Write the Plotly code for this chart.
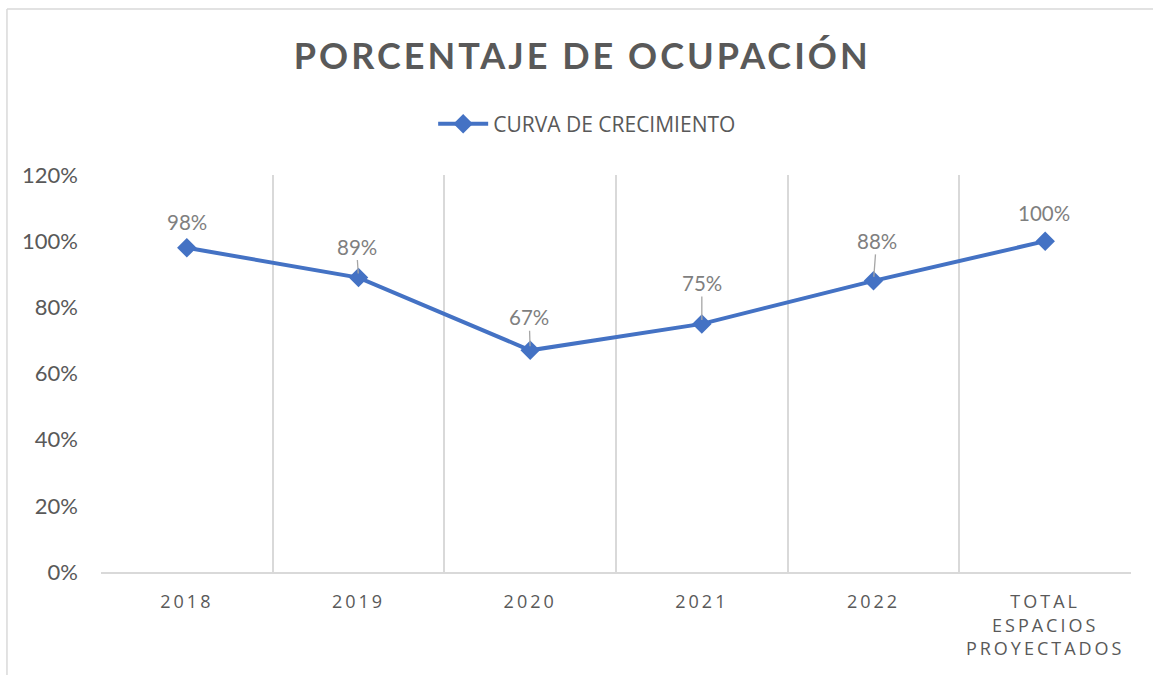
import plotly.graph_objects as go

categories = ["2018", "2019", "2020", "2021", "2022", "TOTAL<br>ESPACIOS<br>PROYECTADOS"]
values = [0.98, 0.89, 0.67, 0.75, 0.88, 1.00]
labels = ["98%", "89%", "67%", "75%", "88%", "100%"]
series_name = "CURVA DE CRECIMIENTO"
title_text = "PORCENTAJE DE OCUPACIÓN"
y_ticks = [0, 0.2, 0.4, 0.6, 0.8, 1.0, 1.2]
y_ticklabels = ["0%", "20%", "40%", "60%", "80%", "100%", "120%"]

# label styling: (x pixel offset, y pixel offset, leader line)
label_style = [(0, -26, False), (-2, -31, True), (-1, -33, True),
               (0, -41, True), (3, -40, True), (-1, -28, False)]

BLUE = "#4472C4"
GREY_TXT = "#595959"
GREY_LBL = "#7F7F7F"
GRID = "#D9D9D9"

fig = go.Figure()
fig.add_trace(go.Scatter(
    x=categories, y=values, mode="lines+markers", name=series_name,
    line=dict(color=BLUE, width=4),
    marker=dict(symbol="diamond", size=15, color=BLUE),
    hoverinfo="skip",
))

annotations = []
for i, (v, t, (dx, dy, leader)) in enumerate(zip(values, labels, label_style)):
    if leader:
        annotations.append(dict(
            x=i, y=v, xref="x", yref="y", text=t, showarrow=True,
            arrowhead=0, arrowwidth=1.3, arrowcolor="#A6A6A6",
            ax=dx, ay=dy, standoff=4, startstandoff=0,
            font=dict(family="Lato", size=20.5, color=GREY_LBL),
        ))
    else:
        annotations.append(dict(
            x=i, y=v, xref="x", yref="y", text=t, showarrow=False,
            xshift=dx, yshift=-dy,
            font=dict(family="Lato", size=20.5, color=GREY_LBL),
        ))

fig.update_layout(
    width=1153, height=675,
    margin=dict(l=101, r=22, t=175, b=103),
    paper_bgcolor="white", plot_bgcolor="white",
    title=dict(text="<b>" + title_text + "</b>", x=0.505, xanchor="center",
               y=0.916, yanchor="middle", xref="container", yref="container",
               font=dict(family="Lato", size=36, color=GREY_TXT)),
    showlegend=True,
    legend=dict(orientation="h", x=0.472, xanchor="center", y=1.128, yanchor="middle",
                font=dict(family="Open Sans", size=21, color=GREY_TXT),
                itemwidth=50, bgcolor="rgba(0,0,0,0)"),
    xaxis=dict(type="category", range=[-0.5, 5.5], tickson="boundaries",
               showgrid=True, gridcolor=GRID, gridwidth=1.5,
               showline=True, linecolor=GRID, linewidth=1.5,
               ticks="", ticklabelstandoff=13,
               tickfont=dict(family="Open Sans", size=18, color=GREY_TXT),
               fixedrange=True),
    yaxis=dict(range=[0, 1.2], tickvals=y_ticks, ticktext=y_ticklabels,
               showgrid=False, zeroline=False, showline=False, ticks="",
               ticklabelstandoff=22,
               tickfont=dict(family="Lato", size=22, color=GREY_TXT),
               fixedrange=True),
    annotations=annotations,
    shapes=[
        dict(type="line", xref="paper", yref="paper", x0=-0.0913, x1=-0.0913,
             y0=1.418, y1=-0.26, line=dict(color=GRID, width=1.5)),
        dict(type="line", xref="paper", yref="paper", x0=-0.0913, x1=1.03,
             y0=1.418, y1=1.418, line=dict(color=GRID, width=1.5)),
    ],
)

post = """
document.body.style.margin='0';
var s=document.createElement('style');
s.innerHTML='body{margin:0 !important;} .gtitle{letter-spacing:3px;} .xtick text{letter-spacing:3px;}';
document.head.appendChild(s);
"""
fig.write_html("out.html", post_script=post, config={"displayModeBar": False})
